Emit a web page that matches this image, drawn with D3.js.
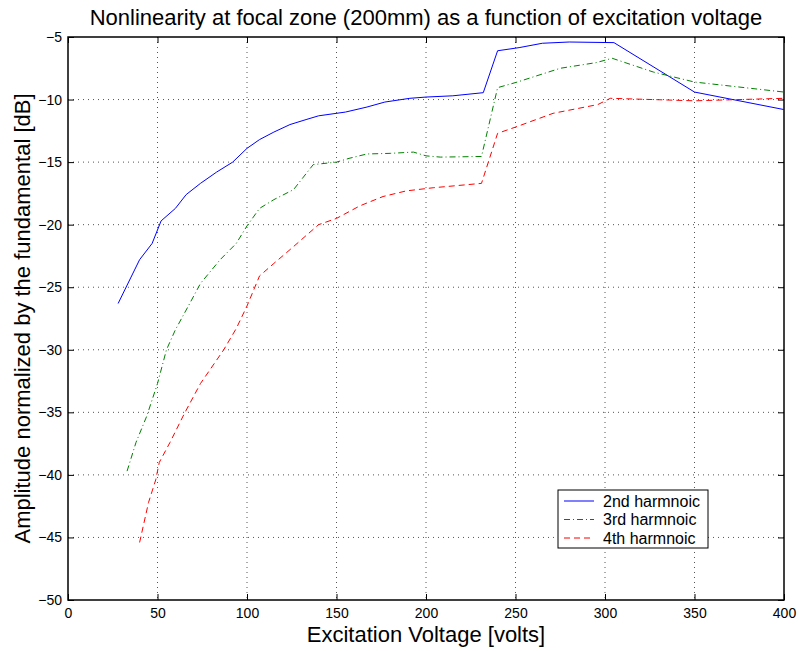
<!DOCTYPE html>
<html>
<head>
<meta charset="utf-8">
<script src="https://cdn.jsdelivr.net/npm/d3@7"></script>
<style>
  body { margin: 0; background: #fff; }
  svg { font-family: "Liberation Sans", Arial, Helvetica, sans-serif; }
</style>
</head>
<body>
<div id="chart"></div>
<script>
// 2nd harmonic
const volts2 = [28, 40, 47, 52, 60, 66, 74, 83, 92, 100, 107, 115, 124, 133, 140, 155, 167, 177, 191, 200, 215, 232, 240, 252, 265, 280, 305, 350, 400];
const amp2 = [-26.3, -22.8, -21.5, -19.7, -18.7, -17.6, -16.7, -15.8, -15.0, -13.9, -13.2, -12.6, -12.0, -11.6, -11.3, -11.0, -10.6, -10.2, -9.9, -9.8, -9.7, -9.45, -6.1, -5.85, -5.5, -5.4, -5.45, -9.4, -10.8];
// 3rd harmonic
const volts3 = [33, 38, 44, 50, 55, 60, 68, 74, 85, 94, 100, 107, 115, 126, 137, 150, 157, 167, 180, 193, 200, 208, 231, 240, 251, 275, 295, 304, 327, 350, 400];
const amp3 = [-39.7, -37.4, -35.3, -32.7, -30.0, -28.4, -26.3, -24.7, -22.8, -21.5, -20.1, -18.7, -18.0, -17.2, -15.2, -15.0, -14.7, -14.35, -14.3, -14.2, -14.5, -14.6, -14.55, -9.05, -8.6, -7.5, -7.05, -6.7, -7.8, -8.6, -9.4];
// 4th harmonic
const volts4 = [40, 45, 49, 51, 57, 65, 74, 87, 94, 100, 107, 115, 124, 140, 150, 163, 176, 189, 204, 231, 240, 251, 271, 296, 303, 350, 400];
const amp4 = [-45.4, -42.2, -40.4, -39.0, -37.4, -35.1, -32.7, -30.0, -28.3, -26.5, -24.1, -23.1, -22.0, -20.0, -19.5, -18.5, -17.75, -17.3, -17.05, -16.7, -12.7, -12.15, -11.1, -10.4, -9.9, -10.1, -9.9];

const xTicks = [0, 50, 100, 150, 200, 250, 300, 350, 400];
const yTicks = [-50, -45, -40, -35, -30, -25, -20, -15, -10, -5];

const seriesNames = ["2nd harmnoic", "3rd harmnoic", "4th harmnoic"];
const seriesColors = ["#0000ff", "#008000", "#ff0000"];
const seriesDash = [null, "6,3,1,3", "6,4"];

const width = 799, height = 651;
const margin = { top: 37, right: 15, bottom: 51, left: 68 };
const plotW = width - margin.left - margin.right;
const plotH = height - margin.top - margin.bottom;

const svg = d3.select("#chart").append("svg")
    .attr("width", width)
    .attr("height", height);

const g = svg.append("g")
    .attr("transform", `translate(${margin.left},${margin.top})`);

const x = d3.scaleLinear().domain([0, 400]).range([0, plotW]);
const y = d3.scaleLinear().domain([-50, -5]).range([plotH, 0]);

// grid
g.append("g").selectAll("line")
    .data(xTicks.slice(1, -1))
    .join("line")
    .attr("x1", d => x(d)).attr("x2", d => x(d))
    .attr("y1", 0).attr("y2", plotH)
    .attr("stroke", "#555").attr("stroke-width", 1)
    .attr("stroke-dasharray", "1,4");

g.append("g").selectAll("line")
    .data(yTicks.slice(1, -1))
    .join("line")
    .attr("y1", d => y(d)).attr("y2", d => y(d))
    .attr("x1", 0).attr("x2", plotW)
    .attr("stroke", "#555").attr("stroke-width", 1)
    .attr("stroke-dasharray", "1,4");

const fmt = d => d < 0 ? "\u2212" + Math.abs(d) : String(d);

// axes with inward ticks
const axB = g.append("g").attr("transform", `translate(0,${plotH})`)
    .call(d3.axisBottom(x).tickValues(xTicks).tickSizeInner(-6).tickSizeOuter(0).tickPadding(8).tickFormat(fmt));
const axT = g.append("g")
    .call(d3.axisTop(x).tickValues(xTicks).tickSizeInner(-6).tickSizeOuter(0).tickFormat(""));
const axL = g.append("g")
    .call(d3.axisLeft(y).tickValues(yTicks).tickSizeInner(-6).tickSizeOuter(0).tickPadding(6).tickFormat(fmt));
const axR = g.append("g").attr("transform", `translate(${plotW},0)`)
    .call(d3.axisRight(y).tickValues(yTicks).tickSizeInner(-6).tickSizeOuter(0).tickFormat(""));

[axB, axT, axL, axR].forEach(a => {
    a.select(".domain").remove();
    a.selectAll(".tick line").attr("stroke", "#000");
    a.selectAll("text").style("font-size", "14px").attr("fill", "#000");
});

g.append("rect")
    .attr("width", plotW).attr("height", plotH)
    .attr("fill", "none").attr("stroke", "#000").attr("stroke-width", 1.5);

// lines
const line = d3.line().x(d => x(d[0])).y(d => y(d[1]));
const series = [
    d3.zip(volts2, amp2),
    d3.zip(volts3, amp3),
    d3.zip(volts4, amp4)
];

series.forEach((s, i) => {
    g.append("path")
        .datum(s)
        .attr("d", line)
        .attr("fill", "none")
        .attr("stroke", seriesColors[i])
        .attr("stroke-width", 1)
        .attr("stroke-dasharray", seriesDash[i]);
});

// legend
const leg = svg.append("g").attr("transform", "translate(558,490)");
leg.append("rect")
    .attr("width", 150).attr("height", 58)
    .attr("fill", "#fff").attr("stroke", "#000").attr("stroke-width", 1);
seriesNames.forEach((name, i) => {
    const ly = 11 + i * 18.5;
    leg.append("line")
        .attr("x1", 6).attr("x2", 36)
        .attr("y1", ly).attr("y2", ly)
        .attr("stroke", seriesColors[i])
        .attr("stroke-width", 1)
        .attr("stroke-dasharray", seriesDash[i]);
    leg.append("text")
        .attr("x", 45).attr("y", ly + 5.5)
        .style("font-size", "16px")
        .text(name);
});

// titles
svg.append("text")
    .attr("x", margin.left + plotW / 2).attr("y", 25)
    .attr("text-anchor", "middle")
    .style("font-size", "22px")
    .text("Nonlinearity at focal zone (200mm) as a function of excitation voltage");

svg.append("text")
    .attr("x", margin.left + plotW / 2).attr("y", 642)
    .attr("text-anchor", "middle")
    .style("font-size", "22px")
    .text("Excitation Voltage [volts]");

svg.append("text")
    .attr("transform", `translate(30,${margin.top + plotH / 2}) rotate(-90)`)
    .attr("text-anchor", "middle")
    .style("font-size", "22px")
    .text("Amplitude normalized by the fundamental [dB]");
</script>
</body>
</html>
